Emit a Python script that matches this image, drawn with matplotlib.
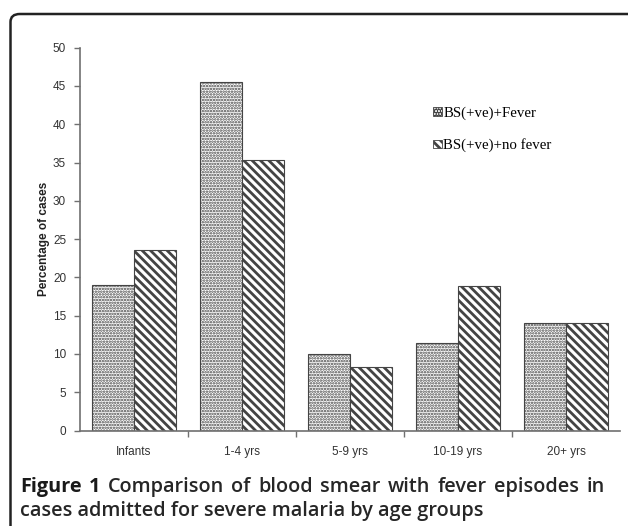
import numpy as np
import matplotlib
matplotlib.use("Agg")
import matplotlib.pyplot as plt
from matplotlib.patches import FancyBboxPatch, Patch

# Data
groups = ["Infants", "1-4 yrs", "5-9 yrs", "10-19 yrs", "20+ yrs"]
fever = [19.0, 45.5, 10.0, 11.5, 14.0]
no_fever = [23.6, 35.3, 8.3, 18.9, 14.1]
series_names = ["BS(+ve)+Fever", "BS(+ve)+no fever"]
y_ticks = [0, 5, 10, 15, 20, 25, 30, 35, 40, 45, 50]
caption_label = "Figure 1"
caption_line1 = "Comparison of blood smear with fever episodes in"
caption_line2 = "cases admitted for severe malaria by age groups"

W, H = 628, 526
fig = plt.figure(figsize=(W / 100, H / 100), dpi=100)

# rounded frame around the figure (runs off the right and bottom edges)
frame = FancyBboxPatch((10.5 / W, -0.2), 1.2, 1.2 - 14 / H,
                       boxstyle="round,pad=0,rounding_size=0.015",
                       transform=fig.transFigure, fill=False,
                       edgecolor="#222222", linewidth=1.8, clip_on=False)
fig.patches.append(frame)

ax = fig.add_axes([80 / W, 1 - 430.6 / H, 540 / W, 383 / H])

x = np.arange(len(groups))
bw = 0.39
axis_grey = "#707070"
dots = "......"
stripes = "\\\\\\\\"

plt.rcParams["hatch.linewidth"] = 1.2
plt.rcParams["hatch.color"] = "#3a3a3a"
ax.bar(x - bw / 2, fever, bw, facecolor="white", edgecolor="#444444",
       hatch=dots, linewidth=0.8, zorder=2)
plt.rcParams["hatch.linewidth"] = 2.0
plt.rcParams["hatch.color"] = "black"
ax.bar(x + bw / 2, no_fever, bw, facecolor="white", edgecolor="#444444",
       hatch=stripes, linewidth=0.8, zorder=2)

ax.set_xlim(-0.5, 4.5)
ax.set_ylim(0, 50)
ax.set_yticks(y_ticks)
ax.set_xticks(x)
ax.set_xticklabels(groups)
ax.set_xticks(x[:-1] + 0.5, minor=True)
ax.tick_params(axis="x", which="major", length=0, pad=11)
ax.tick_params(axis="x", which="minor", length=4, width=1, color=axis_grey, direction="out")
ax.tick_params(axis="y", length=4, width=1, color=axis_grey, direction="out", pad=6)

tick_family = ["Liberation Sans Narrow", "Liberation Sans", "DejaVu Sans"]
for lab in ax.get_xticklabels() + ax.get_yticklabels():
    lab.set_fontfamily(tick_family)
    lab.set_fontsize(8.5)
    lab.set_color("#333333")

for side in ["top", "right"]:
    ax.spines[side].set_visible(False)
for side in ["left", "bottom"]:
    ax.spines[side].set_color(axis_grey)
    ax.spines[side].set_linewidth(1.2)

ax.set_ylabel("Percentage of cases", fontsize=8.5, fontweight="bold",
              family=["Liberation Sans", "DejaVu Sans"], color="#222222", labelpad=2)

# legend
plt.rcParams["hatch.linewidth"] = 1.2
plt.rcParams["hatch.color"] = "#3a3a3a"
h1 = Patch(facecolor="white", edgecolor="#444444", hatch=dots, linewidth=0.6)
plt.rcParams["hatch.linewidth"] = 2.0
plt.rcParams["hatch.color"] = "black"
h2 = Patch(facecolor="white", edgecolor="#444444", hatch=stripes, linewidth=0.6)
fig.legend([h1, h2], series_names, loc="upper left",
           bbox_to_anchor=(426 / W, 1 - 99 / H), frameon=False,
           handlelength=0.55, handleheight=0.55, handletextpad=0.12,
           labelspacing=1.25, borderpad=0,
           prop=dict(family=["Liberation Serif", "DejaVu Serif"], size=10.7))

# caption: first line set flush to both margins (only slight extra spacing)
cap_font = ["Open Sans", "DejaVu Sans"]
cap_size = 14.3
left_px, right_px = 20, 605
y1, y2 = 1 - 487 / H, 1 - 511 / H
renderer = fig.canvas.get_renderer()
words = [(w, "bold", "#1a1a1a") for w in caption_label.split()] + \
        [(w, "semibold", "#262626") for w in caption_line1.split()]
texts = []
for w, weight, col in words:
    texts.append(fig.text(0, y1, w, fontsize=cap_size, fontweight=weight,
                          family=cap_font, color=col, va="center"))
widths = [t.get_window_extent(renderer).width for t in texts]
gap = (right_px - left_px - sum(widths)) / (len(texts) - 1)
pos = left_px
for t, w in zip(texts, widths):
    t.set_x(pos / W)
    pos += w + gap
fig.text(left_px / W, y2, caption_line2, fontsize=cap_size, fontweight="semibold",
         family=cap_font, color="#262626", va="center")

fig.savefig("out.png", dpi=100)
